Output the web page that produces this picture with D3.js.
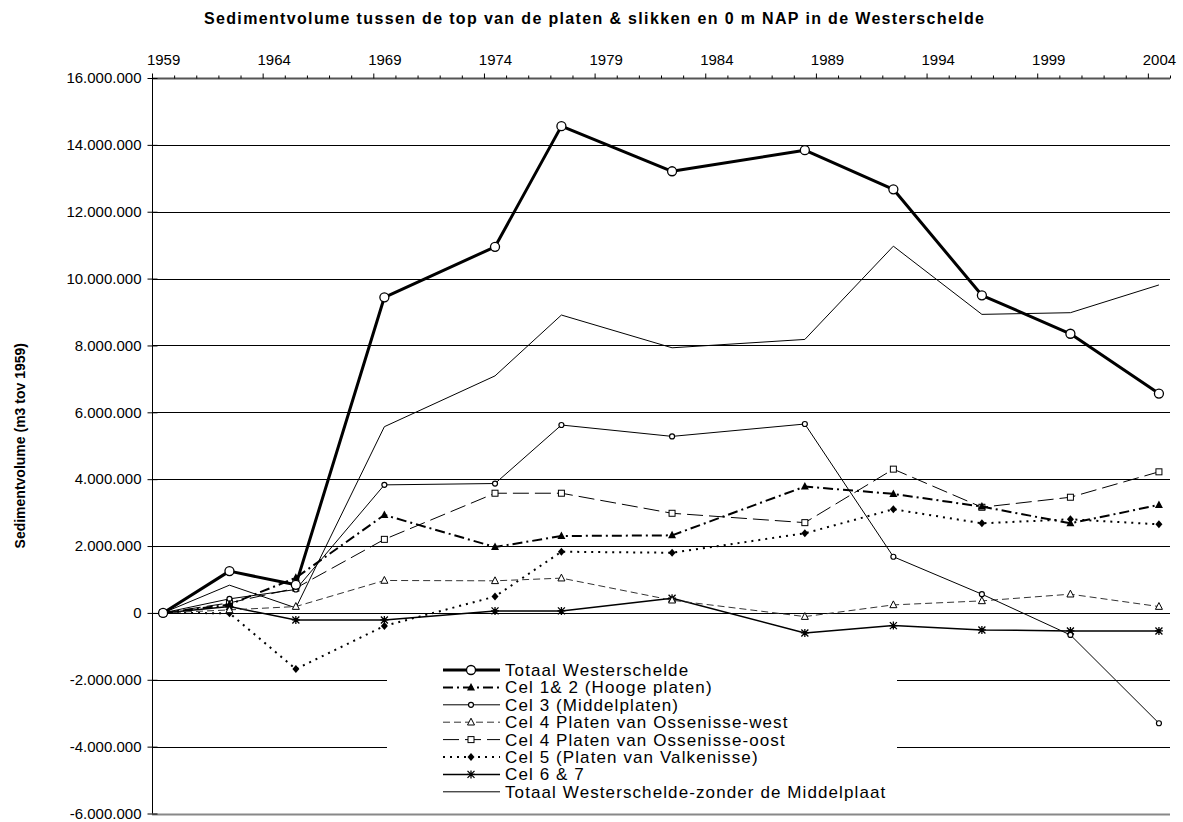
<!DOCTYPE html>
<html>
<head>
<meta charset="utf-8">
<script src="https://cdn.jsdelivr.net/npm/d3@7"></script>
<style>
  html, body { margin: 0; padding: 0; background: #fff; }
  svg { display: block; font-family: "Liberation Sans", Arial, sans-serif; }
</style>
</head>
<body>
<svg id="chart" width="1183" height="822"></svg>
<script>
// ---- Data ----
const years = [1959, 1962, 1965, 1969, 1974, 1977, 1982, 1988, 1992, 1996, 2000, 2004];
const totaal       = [0, 1250000,   840000, 9440000, 10950000, 14560000, 13210000, 13840000, 12670000, 9500000, 8350000, 6560000];
const cel12        = [0,  250000,  1050000, 2930000,  1970000,  2300000,  2320000,  3780000,  3560000, 3180000, 2680000, 3230000];
const cel3         = [0,  420000,   700000, 3830000,  3870000,  5620000,  5280000,  5650000,  1680000,  560000, -660000, -3300000];
const cel4west     = [0,   90000,   190000,  970000,   960000,  1040000,   380000,  -110000,   240000,  360000,  560000,  190000];
const cel4oost     = [0,  300000,   740000, 2200000,  3580000,  3580000,  2980000,  2700000,  4300000, 3160000, 3460000, 4220000];
const cel5         = [0,  -10000, -1680000, -390000,   490000,  1830000,  1800000,  2380000,  3100000, 2680000, 2800000, 2650000];
const cel67        = [0,  190000,  -210000, -210000,    60000,    60000,   440000,  -600000,  -380000, -510000, -540000, -540000];
const totaalZonder = [0,  830000,   150000, 5570000,  7090000,  8910000,  7930000,  8180000, 10970000, 8930000, 8980000, 9810000];

const yTicks = [-6000000, -4000000, -2000000, 0, 2000000, 4000000, 6000000, 8000000, 10000000, 12000000, 14000000, 16000000];
const xLabelYears = [1959, 1964, 1969, 1974, 1979, 1984, 1989, 1994, 1999, 2004];

const titleText = "Sedimentvolume tussen de top van de platen & slikken en 0 m NAP in de Westerschelde";
const yTitleText = "Sedimentvolume (m3 tov 1959)";

const seriesNames = [
  "Totaal Westerschelde",
  "Cel 1& 2 (Hooge platen)",
  "Cel 3 (Middelplaten)",
  "Cel 4 Platen van Ossenisse-west",
  "Cel 4 Platen van Ossenisse-oost",
  "Cel 5 (Platen van Valkenisse)",
  "Cel 6 & 7",
  "Totaal Westerschelde-zonder de Middelplaat"
];
const seriesValues = [totaal, cel12, cel3, cel4west, cel4oost, cel5, cel67, totaalZonder];

// ---- Styles ----
const styles = [
  { w: 3,   dash: null,          color: "#000", marker: "circleBig" },
  { w: 2,   dash: "10,4,2,4",    color: "#000", marker: "triFilled" },
  { w: 1,   dash: null,          color: "#000", marker: "circleSmall" },
  { w: 1,   dash: "7,4",         color: "#333", marker: "triOpen" },
  { w: 1,   dash: "16,6",        color: "#000", marker: "squareOpen" },
  { w: 2,   dash: "2,5",         color: "#000", marker: "diamondFilled" },
  { w: 1.5, dash: null,          color: "#000", marker: "asterisk" },
  { w: 1,   dash: null,          color: "#000", marker: null }
];

const svg = d3.select("#chart");
const pLeft = 152, pRight = 1170, pTop = 78, pBottom = 813.5;

const x = d3.scaleLinear().domain([1958.5, 2004.5]).range([pLeft, pRight]);
const y = d3.scaleLinear().domain([-6000000, 16000000]).range([pBottom, pTop]);

const loc = d3.formatLocale({ decimal: ",", thousands: ".", grouping: [3], currency: ["", ""], minus: "-" });
const fmt = loc.format(",d");

// Title
svg.append("text")
  .attr("x", 594).attr("y", 24)
  .attr("text-anchor", "middle")
  .attr("font-size", 16).attr("font-weight", "bold")
  .attr("textLength", 780).attr("lengthAdjust", "spacing")
  .text(titleText);

// Y title
svg.append("text")
  .attr("transform", `translate(25,${(pTop + pBottom) / 2}) rotate(-90)`)
  .attr("text-anchor", "middle")
  .attr("font-size", 14).attr("font-weight", "bold")
  .text(yTitleText);

// Gridlines
const grid = svg.append("g");
yTicks.forEach(v => {
  if (v === 16000000) return;
  grid.append("line")
    .attr("x1", pLeft).attr("x2", pRight)
    .attr("y1", Math.round(y(v)) + 0.5).attr("y2", Math.round(y(v)) + 0.5)
    .attr("stroke", v === -6000000 ? "#888" : "#000")
    .attr("stroke-width", v === -6000000 ? 2 : 1);
});

// Top axis (line + year boundary ticks)
const boundaries = d3.range(1958.5, 2005, 1);
const topAxis = d3.axisTop(x).tickValues(boundaries).tickSize(3).tickFormat("");
const gTop = svg.append("g").attr("transform", `translate(0,${Math.round(pTop) + 0.5})`).call(topAxis);
gTop.select(".domain").attr("stroke", "#555").attr("stroke-width", 2).attr("d", `M${pLeft},0H${pRight}`);
gTop.selectAll(".tick line")
  .attr("stroke", "#000")
  .attr("y2", d => (Math.round(d - 1958.5) % 5 === 0) ? -5 : -3);

const labelAxis = d3.axisTop(x).tickValues(xLabelYears).tickSize(0).tickPadding(14).tickFormat(d3.format("d"));
const gLab = svg.append("g").attr("transform", `translate(0,${Math.round(pTop) + 0.5})`).call(labelAxis);
gLab.select(".domain").remove();
gLab.selectAll("text").attr("font-size", 15).attr("font-family", "Liberation Sans, Arial, sans-serif").attr("fill", "#000");

// Left axis
const leftAxis = d3.axisLeft(y).tickValues(yTicks).tickSize(5).tickPadding(6).tickFormat(fmt);
const gLeft = svg.append("g").attr("transform", `translate(${pLeft + 0.5},0)`).call(leftAxis);
gLeft.select(".domain").attr("stroke", "#000").attr("d", `M0,${pTop}V${pBottom}`);
gLeft.selectAll(".tick line").attr("x1", 5).attr("x2", -5).attr("stroke", "#000");
gLeft.selectAll("text").attr("font-size", 15).attr("font-family", "Liberation Sans, Arial, sans-serif").attr("fill", "#000");

// Legend background (covers gridlines)
const legX = 387, legY = 660, legW = 510, legH = 141;
svg.append("rect").attr("x", legX).attr("y", legY).attr("width", legW).attr("height", legH).attr("fill", "#fff");

// Markers
function drawMarker(g, type, cx, cy) {
  switch (type) {
    case "circleBig":
      g.append("circle").attr("cx", cx).attr("cy", cy).attr("r", 4.5).attr("fill", "#fff").attr("stroke", "#000").attr("stroke-width", 1.3); break;
    case "circleSmall":
      g.append("circle").attr("cx", cx).attr("cy", cy).attr("r", 2.5).attr("fill", "#fff").attr("stroke", "#000").attr("stroke-width", 1.2); break;
    case "triFilled":
      g.append("path").attr("d", `M${cx},${cy - 4.5}L${cx + 4},${cy + 3}L${cx - 4},${cy + 3}Z`).attr("fill", "#000"); break;
    case "triOpen":
      g.append("path").attr("d", `M${cx},${cy - 4}L${cx + 3.5},${cy + 2.8}L${cx - 3.5},${cy + 2.8}Z`).attr("fill", "#fff").attr("stroke", "#000").attr("stroke-width", 1); break;
    case "squareOpen":
      g.append("rect").attr("x", cx - 3).attr("y", cy - 3).attr("width", 6).attr("height", 6).attr("fill", "#fff").attr("stroke", "#000").attr("stroke-width", 1); break;
    case "diamondFilled":
      g.append("path").attr("d", `M${cx},${cy - 4}L${cx + 3.5},${cy}L${cx},${cy + 4}L${cx - 3.5},${cy}Z`).attr("fill", "#000"); break;
    case "asterisk":
      g.append("path").attr("d", `M${cx - 3.5},${cy - 3.5}L${cx + 3.5},${cy + 3.5}M${cx - 3.5},${cy + 3.5}L${cx + 3.5},${cy - 3.5}M${cx},${cy - 4}L${cx},${cy + 4}M${cx - 4},${cy}L${cx + 4},${cy}`)
        .attr("stroke", "#000").attr("stroke-width", 1.3).attr("fill", "none"); break;
  }
}

const line = d3.line().x(d => x(d[0])).y(d => y(d[1]));
const plot = svg.append("g");
const order = [7, 6, 5, 4, 3, 2, 1, 0];
order.forEach(i => {
  const st = styles[i];
  const pts = years.map((yr, k) => [yr, seriesValues[i][k]]);
  const g = plot.append("g");
  g.append("path").datum(pts).attr("d", line)
    .attr("fill", "none").attr("stroke", st.color).attr("stroke-width", st.w)
    .attr("stroke-dasharray", st.dash).attr("stroke-linejoin", "round");
  if (st.marker) pts.forEach(p => drawMarker(g, st.marker, x(p[0]), y(p[1])));
});

// Legend
const leg = svg.append("g");
seriesNames.forEach((name, i) => {
  const st = styles[i];
  const ry = 670 + i * 17.4;
  leg.append("line").attr("x1", 443).attr("x2", 500).attr("y1", ry).attr("y2", ry)
    .attr("stroke", st.color).attr("stroke-width", st.w).attr("stroke-dasharray", st.dash);
  if (st.marker) drawMarker(leg, st.marker, 471, ry);
  leg.append("text").attr("x", 505).attr("y", ry + 6).attr("font-size", 17)
    .attr("letter-spacing", 1.1).text(name);
});
</script>
</body>
</html>
